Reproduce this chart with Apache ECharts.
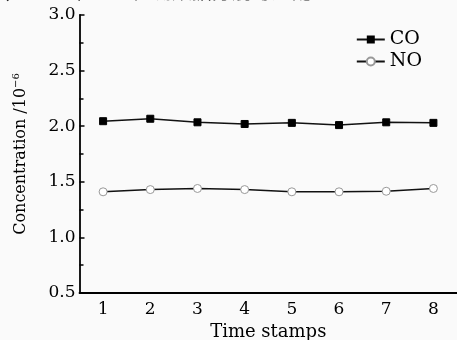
<!DOCTYPE html>
<html>
<head>
<meta charset="utf-8">
<script src="https://cdn.jsdelivr.net/npm/echarts@6/dist/echarts.min.js"></script>
<style>html,body{margin:0;padding:0;background:#fafafa}#c{width:457px;height:340px}</style>
</head>
<body>
<div id="c"></div>
<script>
const categories = ['1','2','3','4','5','6','7','8'];
const coValues = [2.045, 2.067, 2.035, 2.02, 2.03, 2.01, 2.035, 2.03];
const noValues = [1.41, 1.43, 1.44, 1.43, 1.41, 1.41, 1.415, 1.44];
const yTicks = [0.5, 1.0, 1.5, 2.0, 2.5, 3.0];
const seriesNames = ['CO', 'NO'];
const captionText = 'CO 和 NO 检测数据分别与适配。';

const FONT = 'DejaVu Serif';
const chart = echarts.init(document.getElementById('c'), null, {renderer: 'canvas'});
chart.setOption({
  backgroundColor: '#fafafa',
  animation: false,
  graphic: [
    {type: 'text', left: 4, top: -19,
     style: {text: '，', font: '20px "Noto Sans CJK SC"', fill: '#222'}},
    {type: 'text', left: 42, top: -19,
     style: {text: captionText, font: '20px "Noto Sans CJK SC"', fill: '#222'}}
  ],
  grid: {left: 79.5, right: 0, top: 15, bottom: 47, containLabel: false, outerBoundsMode: 'none'},
  legend: {
    orient: 'vertical', right: 30, top: 25, itemGap: 3,
    itemWidth: 28, itemHeight: 10,
    textStyle: {fontFamily: FONT, fontSize: 19, color: '#000'},
    data: seriesNames
  },
  xAxis: {
    type: 'category', data: categories, boundaryGap: true,
    name: 'Time stamps', nameLocation: 'middle', nameGap: 30,
    nameTextStyle: {fontFamily: FONT, fontSize: 18, color: '#000'},
    axisLine: {lineStyle: {color: '#000', width: 1.8}},
    axisTick: {inside: true, alignWithLabel: true, length: 5, lineStyle: {color: '#000', width: 1.5}},
    axisLabel: {fontFamily: FONT, fontSize: 17, color: '#000', margin: 8},
    splitLine: {show: false}
  },
  yAxis: {
    type: 'value', min: yTicks[0], max: yTicks[yTicks.length - 1], interval: 0.5,
    name: 'Concentration /10{s|−6}', nameLocation: 'middle', nameGap: 50,
    nameTextStyle: {fontFamily: FONT, fontSize: 16, color: '#000',
      rich: {s: {fontFamily: FONT, fontSize: 10, verticalAlign: 'top', padding: [0, 0, 8, 0]}}},
    axisLine: {show: true, lineStyle: {color: '#000', width: 1.8}},
    axisTick: {show: true, inside: true, length: 5, lineStyle: {color: '#000', width: 1.5}},
    minorTick: {show: true, splitNumber: 2, length: 4, lineStyle: {color: '#000', width: 1.5}},
    axisLabel: {fontFamily: FONT, fontSize: 17, color: '#000', margin: 4,
      formatter: v => v.toFixed(1)},
    splitLine: {show: false}
  },
  series: [
    {name: seriesNames[0], type: 'line', data: coValues,
     symbol: 'rect', symbolSize: 7,
     itemStyle: {color: '#000', borderColor: '#000'},
     lineStyle: {color: '#111', width: 1.5}},
    {name: seriesNames[1], type: 'line', data: noValues,
     symbol: 'circle', symbolSize: 8,
     itemStyle: {color: '#fff', borderColor: '#999', borderWidth: 1},
     lineStyle: {color: '#111', width: 1.5}}
  ]
});
</script>
</body>
</html>
